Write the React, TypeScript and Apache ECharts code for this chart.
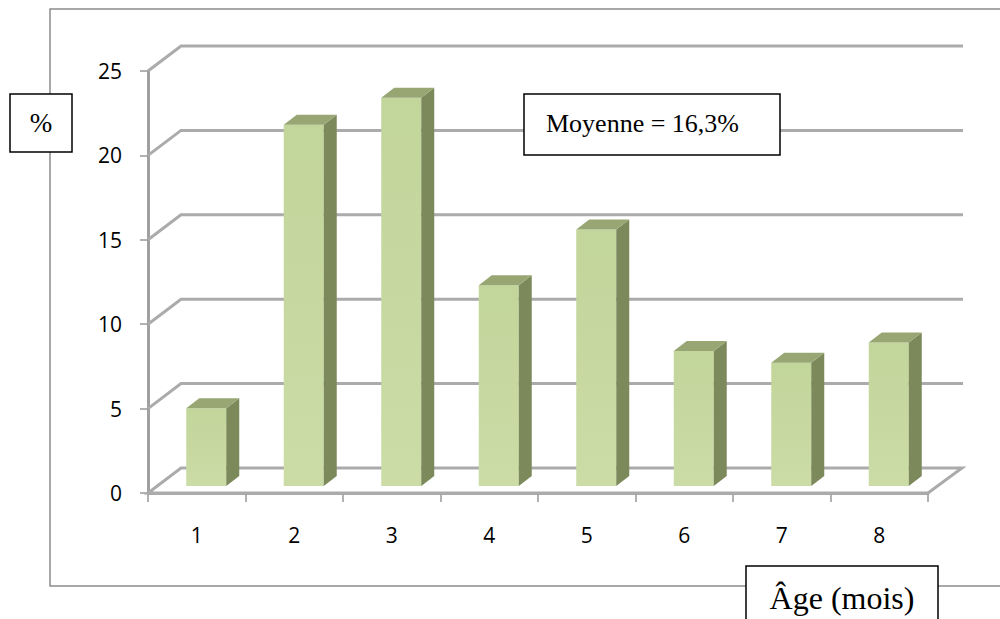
import React, { useEffect, useRef } from "react";
import * as echarts from "echarts";

const categories = ["1", "2", "3", "4", "5", "6", "7", "8"];
const values = [4.6, 21.4, 23.0, 11.9, 15.2, 8.0, 7.3, 8.5];
const yTicks = [0, 5, 10, 15, 20, 25];
const yAxisTitle = "%";
const xAxisTitle = "Âge (mois)";
const noteText = "Moyenne = 16,3%";

const WALL_DX = 34;
const WALL_DY = 25;
const BAR_DX = 9.5;
const BAR_DY = 7;
const BAR_W = 40;
const SIDE_DX = 13;
const SIDE_DY = 10;

const GRID_COLOR = "#ababab";

export default function App() {
  const ref = useRef<HTMLDivElement>(null);
  useEffect(() => {
    const chart = echarts.init(ref.current!, null, { renderer: "svg" });
    const boxStyle = { fill: "#fff", stroke: "#000", lineWidth: 1.5 };
    const option: any = {
      animation: false,
      backgroundColor: "#ffffff",
      grid: { left: 148, right: 72, top: 71, bottom: 126 },
      xAxis: {
        type: "category",
        data: categories,
        axisLine: { show: true, lineStyle: { color: GRID_COLOR, width: 3 } },
        axisTick: { show: true, length: 9, lineStyle: { color: "#999", width: 1.5 } },
        axisLabel: { fontFamily: "Open Sans", fontSize: 21, color: "#000", margin: 31 },
        splitLine: { show: false },
      },
      yAxis: {
        type: "value",
        min: 0,
        max: 25,
        interval: 5,
        axisLine: { show: true, lineStyle: { color: "#a0a0a0", width: 3 } },
        axisTick: { show: true, length: 8, lineStyle: { color: "#999", width: 1.5 } },
        axisLabel: { fontFamily: "Open Sans", fontSize: 21, color: "#000", margin: 26 },
        splitLine: { show: false },
      },
      series: [
        {
          type: "custom",
          clip: false,
          z: 1,
          data: yTicks.map((t) => [0, t]),
          encode: { x: 0, y: 1 },
          renderItem: (params: any, api: any) => {
            const v = api.value(1);
            const cs = params.coordSys;
            const left = cs.x;
            const right = cs.x + cs.width;
            const y = api.coord([0, v])[1];
            const style = { stroke: GRID_COLOR, lineWidth: 3, fill: "none" };
            if (v === 0) {
              return {
                type: "polygon",
                shape: {
                  points: [
                    [left, y],
                    [right, y],
                    [right + WALL_DX, y - WALL_DY],
                    [left + WALL_DX - 1, y - WALL_DY],
                  ],
                },
                style,
              };
            }
            return {
              type: "polyline",
              shape: {
                points: [
                  [left, y],
                  [left + WALL_DX - 1, y - WALL_DY],
                  [right + WALL_DX + 1, y - WALL_DY],
                ],
              },
              style,
            };
          },
        },
        {
          type: "custom",
          clip: false,
          z: 3,
          data: values.map((v, i) => [i, v]),
          encode: { x: 0, y: 1 },
          renderItem: (params: any, api: any) => {
            const i = api.value(0);
            const v = api.value(1);
            const base = api.coord([i, 0]);
            const top = api.coord([i, v]);
            const cx = base[0] + BAR_DX;
            const by = base[1] - BAR_DY;
            const ty = top[1] - BAR_DY;
            const xl = cx - BAR_W / 2;
            const xr = cx + BAR_W / 2;
            return {
              type: "group",
              children: [
                {
                  type: "rect",
                  shape: { x: xl, y: ty, width: BAR_W, height: by - ty },
                  style: {
                    fill: {
                      type: "linear", x: 0, y: 0, x2: 0, y2: 1,
                      colorStops: [
                        { offset: 0, color: "#c2d59a" },
                        { offset: 1, color: "#cbdca6" },
                      ],
                    },
                  },
                },
                {
                  type: "polygon",
                  shape: {
                    points: [
                      [xr, ty],
                      [xr + SIDE_DX, ty - SIDE_DY],
                      [xr + SIDE_DX, by - SIDE_DY],
                      [xr, by],
                    ],
                  },
                  style: { fill: "#7c8a5b" },
                },
                {
                  type: "polygon",
                  shape: {
                    points: [
                      [xl, ty],
                      [xl + SIDE_DX, ty - SIDE_DY],
                      [xr + SIDE_DX, ty - SIDE_DY],
                      [xr, ty],
                    ],
                  },
                  style: { fill: "#97a673" },
                },
              ],
            };
          },
        },
      ],
      graphic: {
        elements: [
          {
            type: "rect",
            z: 0,
            shape: { x: 50, y: 9, width: 1000, height: 577 },
            style: { fill: "none", stroke: "#8c8c8c", lineWidth: 1.5 },
          },
          {
            type: "rect",
            z: 100,
            shape: { x: 10, y: 94, width: 62, height: 58 },
            style: boxStyle,
          },
          {
            type: "text",
            z: 101,
            x: 41,
            y: 123,
            style: {
              text: yAxisTitle,
              font: '27px "Liberation Serif"',
              fill: "#000",
              align: "center",
              verticalAlign: "middle",
            },
          },
          {
            type: "rect",
            z: 100,
            shape: { x: 524, y: 94, width: 256, height: 61 },
            style: boxStyle,
          },
          {
            type: "text",
            z: 101,
            x: 546,
            y: 123,
            style: {
              text: noteText,
              font: '26px "Liberation Serif"',
              fill: "#000",
              align: "left",
              verticalAlign: "middle",
            },
          },
          {
            type: "rect",
            z: 100,
            shape: { x: 746, y: 566, width: 192, height: 80 },
            style: boxStyle,
          },
          {
            type: "text",
            z: 101,
            x: 842,
            y: 598,
            style: {
              text: xAxisTitle,
              font: '32px "Liberation Serif"',
              fill: "#000",
              align: "center",
              verticalAlign: "middle",
            },
          },
        ],
      },
    };
    chart.setOption(option);
    return () => chart.dispose();
  }, []);
  return (
    <div
      ref={ref}
      style={{ position: "fixed", left: 0, top: 0, width: 1000, height: 619 }}
    />
  );
}
